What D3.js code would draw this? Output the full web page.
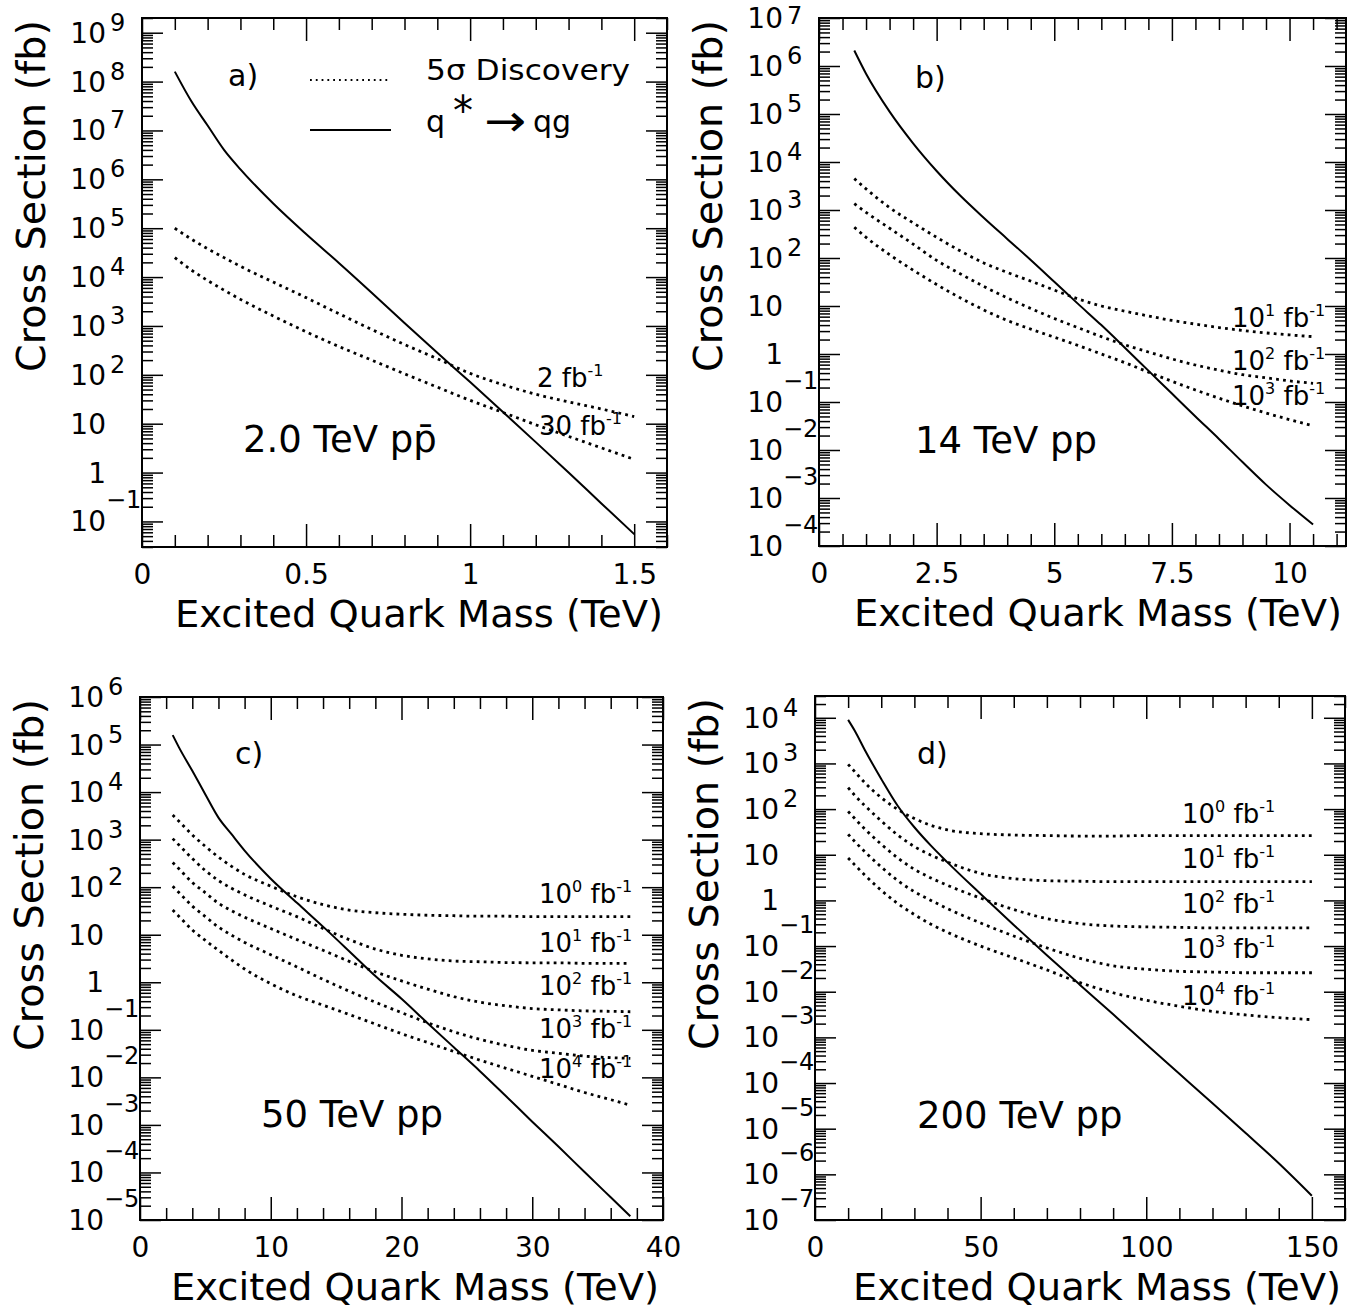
<!DOCTYPE html>
<html><head><meta charset="utf-8">
<script src="https://cdn.jsdelivr.net/npm/d3@7"></script>
<style>
body{margin:0;background:#fff}
svg{display:block}
text{font-family:"DejaVu Sans",sans-serif;fill:#000}
</style>
</head><body>
<svg id="chart" width="1354" height="1313"></svg>
<script>
// ---------------- DATA ----------------
// Panel a) 2.0 TeV p pbar
const massA = [0.1, 0.15, 0.2, 0.25, 0.3, 0.4, 0.5, 0.6, 0.7, 0.8, 0.9, 1.0, 1.1, 1.2, 1.3, 1.4, 1.5];
const qstarA = [1.6e8, 4.0e7, 1.26e7, 4.0e6, 1.6e6, 3.2e5, 7.6e4, 1.95e4, 4.8e3, 1.15e3, 282, 71, 17.4, 4.2, 1.0, 0.234, 0.055];
const disc2A = [1.0e5, 6.0e4, 3.8e4, 2.5e4, 1.66e4, 7.9e3, 3.8e3, 1.78e3, 850, 417, 214, 107, 63, 40, 28, 20, 14];
const disc30A = [2.5e4, 1.4e4, 8.5e3, 5.4e3, 3.5e3, 1.6e3, 760, 380, 200, 105, 56, 30, 17, 9.5, 5.5, 3.2, 1.86];
const lumLabelsA = ["2", "30"];

// Panel b) 14 TeV pp
const massB = [0.75, 1, 1.5, 2, 2.5, 3, 3.5, 4, 4.5, 5, 5.5, 6, 6.5, 7, 7.5, 8, 8.5, 9, 9.5, 10, 10.5];
const qstarB = [2.1e6, 6.9e5, 1.12e5, 2.45e4, 6.5e3, 2.0e3, 690, 250, 91, 32, 11.2, 4.0, 1.35, 0.45, 0.15, 0.05, 0.017, 5.6e-3, 1.9e-3, 7.1e-4, 2.8e-4];
const disc1e1B = [4.5e3, 2.75e3, 1.12e3, 540, 270, 141, 79, 50, 33, 21.4, 14.1, 10, 7.8, 6.2, 5.0, 4.2, 3.55, 3.1, 2.75, 2.5, 2.3];
const disc1e2B = [1.35e3, 890, 417, 195, 89, 47, 25.7, 14.8, 8.9, 5.5, 3.55, 2.3, 1.55, 1.1, 0.79, 0.59, 0.46, 0.37, 0.32, 0.275, 0.245];
const disc1e3B = [437, 270, 117, 56, 28, 14.8, 8.3, 5.0, 3.3, 2.24, 1.51, 1.0, 0.66, 0.42, 0.27, 0.178, 0.12, 0.083, 0.059, 0.043, 0.032];
const lumExpB = [1, 2, 3];

// Panel c) 50 TeV pp
const massC = [2.5, 3, 4, 5, 6, 7, 8, 10, 12, 14, 16, 18, 20, 22, 24, 26, 28, 30, 32, 34, 36, 37.5];
const qstarC = [1.58e5, 8.5e4, 2.8e4, 8.9e3, 2.9e3, 1.3e3, 590, 151, 47, 14.8, 4.5, 1.35, 0.45, 0.138, 0.043, 0.0135, 4.0e-3, 1.17e-3, 3.5e-4, 1.02e-4, 3.0e-5, 1.2e-5];
const disc1e0C = [3.3e3, 2.4e3, 1.26e3, 720, 430, 275, 186, 105, 63, 43, 33, 29, 27, 25.7, 25.1, 24.5, 24.5, 24, 24, 24, 24, 24];
const disc1e1C = [1.05e3, 760, 400, 224, 138, 95, 69, 40, 24, 13.5, 7.9, 5.0, 3.7, 3.1, 2.8, 2.7, 2.6, 2.57, 2.57, 2.5, 2.5, 2.5];
const disc1e2C = [330, 240, 126, 76, 46, 32, 23.4, 13.5, 7.9, 4.7, 2.75, 1.66, 1.07, 0.72, 0.5, 0.38, 0.32, 0.28, 0.263, 0.25, 0.245, 0.24];
const disc1e3C = [105, 76, 40, 24, 14.5, 9.8, 6.9, 3.8, 2.1, 1.15, 0.65, 0.38, 0.23, 0.141, 0.091, 0.063, 0.047, 0.037, 0.032, 0.028, 0.026, 0.025];
const disc1e4C = [33, 24, 12.6, 7.6, 4.7, 2.95, 1.9, 0.93, 0.52, 0.33, 0.21, 0.132, 0.083, 0.054, 0.035, 0.023, 0.0155, 0.0105, 7.1e-3, 4.8e-3, 3.4e-3, 2.6e-3];
const lumExpC = [0, 1, 2, 3, 4];

// Panel d) 200 TeV pp
const massD = [10, 12, 15, 20, 25, 30, 35, 40, 50, 60, 70, 80, 90, 100, 110, 120, 130, 140, 150];
const qstarD = [9.0e3, 5.2e3, 2.0e3, 457, 117, 40, 15.8, 6.8, 1.38, 0.29, 0.063, 0.0141, 3.2e-3, 7.1e-4, 1.6e-4, 3.6e-5, 8.0e-6, 1.75e-6, 3.4e-7];
const disc1e0D = [955, 660, 380, 178, 98, 62, 44, 35, 29, 27, 26.3, 25.7, 25.7, 26.3, 26.3, 26.3, 26.3, 26.3, 26.3];
const disc1e1D = [295, 200, 120, 55, 27, 15.1, 9.8, 6.9, 3.9, 3.0, 2.7, 2.63, 2.57, 2.57, 2.57, 2.57, 2.57, 2.57, 2.57];
const disc1e2D = [89, 62, 37, 17, 8.5, 4.8, 3.1, 2.14, 1.12, 0.63, 0.4, 0.31, 0.275, 0.263, 0.257, 0.25, 0.25, 0.25, 0.25];
const disc1e3D = [28, 19.5, 11.7, 5.4, 2.7, 1.55, 1.0, 0.66, 0.32, 0.166, 0.091, 0.054, 0.037, 0.031, 0.028, 0.027, 0.026, 0.026, 0.026];
const disc1e4D = [8.5, 6.0, 3.6, 1.66, 0.85, 0.49, 0.3, 0.2, 0.1, 0.055, 0.03, 0.0158, 9.5e-3, 6.5e-3, 4.8e-3, 3.7e-3, 3.1e-3, 2.7e-3, 2.45e-3];
const lumExpD = [0, 1, 2, 3, 4];

// Axis ticks and labels
const xTicksA = [0, 0.5, 1, 1.5], xTickLabelsA = ["0", "0.5", "1", "1.5"];
const xTicksB = [0, 2.5, 5, 7.5, 10], xTickLabelsB = ["0", "2.5", "5", "7.5", "10"];
const xTicksC = [0, 10, 20, 30, 40], xTickLabelsC = ["0", "10", "20", "30", "40"];
const xTicksD = [0, 50, 100, 150], xTickLabelsD = ["0", "50", "100", "150"];
const yDecadesA = [-1, 0, 1, 2, 3, 4, 5, 6, 7, 8, 9];
const yDecadesB = [-4, -3, -2, -1, 0, 1, 2, 3, 4, 5, 6, 7];
const yDecadesC = [-5, -4, -3, -2, -1, 0, 1, 2, 3, 4, 5, 6];
const yDecadesD = [-7, -6, -5, -4, -3, -2, -1, 0, 1, 2, 3, 4];
const xTitle = "Excited Quark Mass (TeV)";
const yTitle = "Cross Section (fb)";
const energyLabels = ["2.0 TeV p", "14 TeV pp", "50 TeV pp", "200 TeV pp"];
const panelTags = ["a)", "b)", "c)", "d)"];

// ---------------- LAYOUT ----------------
const panels = [
  {frame:{x0:142, x1:667, y0:18, y1:547}, xdom:[0,1.6], ydom:[0.03,2e9], xMinor:0.1,
   xTicks:xTicksA, xLabels:xTickLabelsA, yDec:yDecadesA, mass:massA, qstar:qstarA, disc:[disc2A, disc30A],
   tag:panelTags[0], tagPos:[86,68], energy:energyLabels[0], pbar:true, energyPos:[101,434],
   lum: lumLabelsA.map(s=>({base:s, exp:null})), lumPos:[[395,369],[397,417]], legend:true},
  {frame:{x0:819, x1:1346, y0:18, y1:546}, xdom:[0,11.2], ydom:[1e-4,1e7], xMinor:0.5,
   xTicks:xTicksB, xLabels:xTickLabelsB, yDec:yDecadesB, mass:massB, qstar:qstarB, disc:[disc1e1B, disc1e2B, disc1e3B],
   tag:panelTags[1], tagPos:[96,70], energy:energyLabels[1], energyPos:[96,435],
   lum: lumExpB.map(e=>({base:"10", exp:String(e)})), lumPos:[[413,309],[413,352],[413,387]]},
  {frame:{x0:140, x1:663, y0:697, y1:1220}, xdom:[0,40], ydom:[1e-5,1e6], xMinor:2,
   xTicks:xTicksC, xLabels:xTickLabelsC, yDec:yDecadesC, mass:massC, qstar:qstarC, disc:[disc1e0C, disc1e1C, disc1e2C, disc1e3C, disc1e4C],
   tag:panelTags[2], tagPos:[95,67], energy:energyLabels[2], energyPos:[121,430],
   lum: lumExpC.map(e=>({base:"10", exp:String(e)})), lumPos:[[399,206],[399,255],[399,298],[399,341],[399,381]]},
  {frame:{x0:815, x1:1345, y0:696, y1:1220}, xdom:[0,160], ydom:[1e-7,3e4], xMinor:10,
   xTicks:xTicksD, xLabels:xTickLabelsD, yDec:yDecadesD, mass:massD, qstar:qstarD, disc:[disc1e0D, disc1e1D, disc1e2D, disc1e3D, disc1e4D],
   tag:panelTags[3], tagPos:[102,68], energy:energyLabels[3], energyPos:[102,432],
   lum: lumExpD.map(e=>({base:"10", exp:String(e)})), lumPos:[[367,127],[367,172],[367,217],[367,262],[367,309]]}
];

const svg = d3.select("#chart");

function logMinor(dom){
  const out=[]; const lo=Math.floor(Math.log10(dom[0]))-1, hi=Math.ceil(Math.log10(dom[1]));
  for(let e=lo;e<=hi;e++) for(let m=2;m<=9;m++){const v=m*Math.pow(10,e); if(v>=dom[0]*0.999 && v<=dom[1]*1.001) out.push(v);}
  return out;
}

function drawPanel(p){
  const f=p.frame;
  const x=d3.scaleLinear().domain(p.xdom).range([f.x0,f.x1]);
  const y=d3.scaleLog().domain(p.ydom).range([f.y1,f.y0]);
  const g=svg.append("g");

  const xMinor=d3.range(p.xdom[0], p.xdom[1]+1e-9, p.xMinor).map(v=>+v.toFixed(6)).filter(v=>!p.xTicks.some(t=>Math.abs(t-v)<1e-6));
  const yMajor=p.yDec.map(e=>Math.pow(10,e)).filter(v=>v>=p.ydom[0]*0.999 && v<=p.ydom[1]*1.001);
  const yMinor=logMinor(p.ydom);

  function tickGroup(axis, tr){
    const a=g.append("g").attr("transform",tr).call(axis);
    a.select(".domain").remove();
    a.selectAll("line").attr("stroke","#000").attr("stroke-width",1.5);
    return a;
  }
  // bottom
  const bMaj=tickGroup(d3.axisBottom(x).tickValues(p.xTicks).tickSize(-23).tickPadding(17).tickFormat((d,i)=>p.xLabels[i]), `translate(0,${f.y1})`);
  bMaj.selectAll("text").attr("font-size",28).attr("font-family","DejaVu Sans").attr("fill","#000");
  tickGroup(d3.axisBottom(x).tickValues(xMinor).tickSize(-12).tickFormat(""), `translate(0,${f.y1})`);
  // top
  tickGroup(d3.axisTop(x).tickValues(p.xTicks).tickSize(-23).tickFormat(""), `translate(0,${f.y0})`);
  tickGroup(d3.axisTop(x).tickValues(xMinor).tickSize(-12).tickFormat(""), `translate(0,${f.y0})`);
  // left
  tickGroup(d3.axisLeft(y).tickValues(yMajor).tickSize(-21).tickFormat(""), `translate(${f.x0},0)`);
  tickGroup(d3.axisLeft(y).tickValues(yMinor).tickSize(-11).tickFormat(""), `translate(${f.x0},0)`);
  // right
  tickGroup(d3.axisRight(y).tickValues(yMajor).tickSize(-21).tickFormat(""), `translate(${f.x1},0)`);
  tickGroup(d3.axisRight(y).tickValues(yMinor).tickSize(-11).tickFormat(""), `translate(${f.x1},0)`);

  // y labels
  const xr=f.x0-36;
  p.yDec.forEach(e=>{
    const ty=y(Math.pow(10,e));
    g.append("text").attr("x",xr).attr("y",ty+10).attr("text-anchor","end").attr("font-size",28)
      .text(e===0?"1":"10");
    if(e!==0 && e!==1){
      g.append("text").attr("x",xr+(e<0?0:4)).attr("y",Math.max(24, ty+(e<0?-13:-2))).attr("font-size",24)
        .text(e<0?"\u2212"+(-e):String(e));
    }
  });

  // frame
  g.append("rect").attr("x",f.x0).attr("y",f.y0).attr("width",f.x1-f.x0).attr("height",f.y1-f.y0)
    .attr("fill","none").attr("stroke","#000").attr("stroke-width",2);

  // titles
  g.append("text").attr("x",f.x1-4).attr("y",f.y1+80).attr("text-anchor","end").attr("font-size",37)
    .attr("textLength",488).attr("lengthAdjust","spacingAndGlyphs").text(xTitle);
  g.append("text").attr("transform",`translate(${f.x0-97},${f.y0+2}) rotate(-90)`).attr("text-anchor","end")
    .attr("font-size",39).attr("textLength",352).attr("lengthAdjust","spacingAndGlyphs").text(yTitle);

  // curves
  const line=d3.line().x(d=>x(d[0])).y(d=>y(d[1])).curve(d3.curveMonotoneX);
  p.disc.forEach(s=>{
    g.append("path").attr("d",line(p.mass.map((m,i)=>[m,s[i]]))).attr("fill","none").attr("stroke","#000")
      .attr("stroke-width",2.8).attr("stroke-dasharray","2.8 4.2");
  });
  g.append("path").attr("d",line(p.mass.map((m,i)=>[m,p.qstar[i]]))).attr("fill","none").attr("stroke","#000")
    .attr("stroke-width",2);

  // annotations
  g.append("text").attr("x",f.x0+p.tagPos[0]).attr("y",f.y0+p.tagPos[1]).attr("font-size",30).text(p.tag);
  const en=g.append("text").attr("x",f.x0+p.energyPos[0]).attr("y",f.y0+p.energyPos[1]).attr("font-size",37);
  if(p.pbar){ en.text(p.energy+"p\u0304"); } else { en.text(p.energy); }

  p.lum.forEach((l,i)=>{
    const t=g.append("text").attr("x",f.x0+p.lumPos[i][0]).attr("y",f.y0+p.lumPos[i][1]).attr("font-size",26);
    t.append("tspan").text(l.base);
    if(l.exp!==null) t.append("tspan").attr("font-size",16).attr("dy",-11).text(l.exp);
    t.append("tspan").attr("dy",l.exp!==null?11:0).text(" fb");
    t.append("tspan").attr("font-size",16).attr("dy",-11).text("-1");
  });

  if(p.legend){
    g.append("line").attr("x1",f.x0+168).attr("x2",f.x0+249).attr("y1",f.y0+62).attr("y2",f.y0+62)
      .attr("stroke","#000").attr("stroke-width",1.8).attr("stroke-dasharray","1.8 4");
    g.append("text").attr("x",f.x0+284).attr("y",f.y0+62).attr("font-size",28)
      .attr("textLength",204).attr("lengthAdjust","spacingAndGlyphs").text("5\u03c3 Discovery");
    g.append("line").attr("x1",f.x0+168).attr("x2",f.x0+249).attr("y1",f.y0+112).attr("y2",f.y0+112)
      .attr("stroke","#000").attr("stroke-width",2);
    g.append("text").attr("x",f.x0+284).attr("y",f.y0+114).attr("font-size",30).text("q");
    g.append("text").attr("x",f.x0+321).attr("y",f.y0+107).attr("text-anchor","middle").attr("font-size",40).text("*");
    g.append("text").attr("x",f.x0+342).attr("y",f.y0+118).attr("font-size",44)
      .attr("textLength",42).attr("lengthAdjust","spacingAndGlyphs").text("\u2192");
    g.append("text").attr("x",f.x0+391).attr("y",f.y0+114).attr("font-size",30).text("qg");
  }
}

panels.forEach(drawPanel);
</script>
</body></html>
